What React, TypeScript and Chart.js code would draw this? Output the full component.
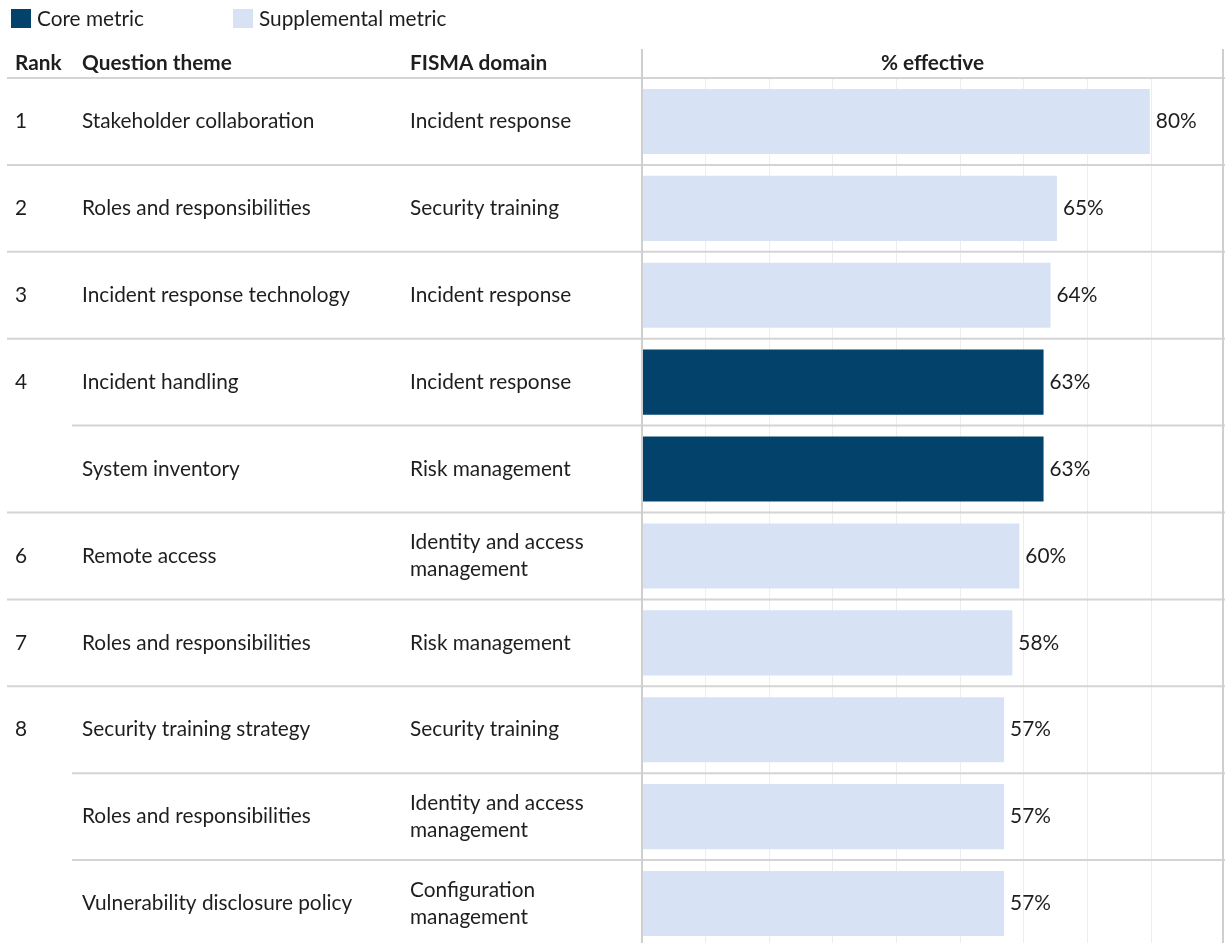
import React, { useEffect, useRef } from "react";
import { Chart, registerables } from "chart.js";

Chart.register(...registerables);

const ranks = ["1", "2", "3", "4", "", "6", "7", "8", "", ""];
const themes = [
  "Stakeholder collaboration",
  "Roles and responsibilities",
  "Incident response technology",
  "Incident handling",
  "System inventory",
  "Remote access",
  "Roles and responsibilities",
  "Security training strategy",
  "Roles and responsibilities",
  "Vulnerability disclosure policy",
];
const domains = [
  "Incident response",
  "Security training",
  "Incident response",
  "Incident response",
  "Risk management",
  "Identity and access\nmanagement",
  "Risk management",
  "Security training",
  "Identity and access\nmanagement",
  "Configuration\nmanagement",
];
const values = [79.8, 65.2, 64.2, 63.1, 63.1, 59.3, 58.2, 56.9, 56.9, 56.9];
const valueLabels = ["80%", "65%", "64%", "63%", "63%", "60%", "58%", "57%", "57%", "57%"];
const metricTypes = ["supp", "supp", "supp", "core", "core", "supp", "supp", "supp", "supp", "supp"];
const legendLabels = ["Core metric", "Supplemental metric"];
const headers = ["Rank", "Question theme", "FISMA domain", "% effective"];

const CORE = "#02426b";
const SUPP = "#d7e3f4";
const TEXT = "#1e1e1e";
const FAMILY = "Lato, 'Open Sans', sans-serif";

let cachedSize: number | null = null;
function fitSize(ctx: CanvasRenderingContext2D): number {
  if (cachedSize) return cachedSize;
  ctx.save();
  ctx.font = `400 20px ${FAMILY}`;
  const w = ctx.measureText("Stakeholder collaboration").width;
  ctx.restore();
  cachedSize = Math.round((20 * 232 / w) * 10) / 10;
  return cachedSize;
}

const tablePlugin = {
  id: "tablePlugin",
  afterDraw(chart: any) {
    const ctx: CanvasRenderingContext2D = chart.ctx;
    const area = chart.chartArea;
    const yScale = chart.scales.y;
    const xScale = chart.scales.x;
    const n = themes.length;
    const rowH = (area.bottom - area.top) / n;
    const size = fitSize(ctx);
    const H = chart.height;
    ctx.save();

    // row separators
    ctx.strokeStyle = "#d4d4d4";
    ctx.lineWidth = 2;
    for (let i = 0; i < n; i++) {
      const yy = area.top + i * rowH;
      const x0 = ranks[i] ? 7 : 72;
      ctx.beginPath();
      ctx.moveTo(x0, yy);
      ctx.lineTo(chart.width, yy);
      ctx.stroke();
    }
    // axis line & right border
    ctx.strokeStyle = "#cfcfcf";
    [area.left, area.right].forEach((xx: number) => {
      ctx.beginPath();
      ctx.moveTo(xx, 49);
      ctx.lineTo(xx, H);
      ctx.stroke();
    });

    ctx.fillStyle = TEXT;
    ctx.textBaseline = "middle";
    ctx.textAlign = "left";

    // legend
    const legendX = [11, 233];
    const legendColors = [CORE, SUPP];
    ctx.font = `400 ${size}px ${FAMILY}`;
    legendLabels.forEach((lbl, k) => {
      ctx.fillStyle = legendColors[k];
      ctx.fillRect(legendX[k], 9, 20, 19);
      ctx.fillStyle = TEXT;
      ctx.fillText(lbl, legendX[k] + 26, 19);
    });

    // headers
    ctx.font = `700 ${size}px ${FAMILY}`;
    ctx.fillText(headers[0], 15, 63);
    ctx.fillText(headers[1], 82, 63);
    ctx.fillText(headers[2], 410, 63);
    ctx.textAlign = "center";
    ctx.fillText(headers[3], (area.left + area.right) / 2, 63);
    ctx.textAlign = "left";

    // rows
    ctx.font = `400 ${size}px ${FAMILY}`;
    for (let i = 0; i < n; i++) {
      const yc = yScale.getPixelForValue(i);
      if (ranks[i]) ctx.fillText(ranks[i], 15, yc);
      ctx.fillText(themes[i], 82, yc);
      const lines = domains[i].split("\n");
      const lh = 27;
      lines.forEach((ln, j) => {
        ctx.fillText(ln, 410, yc + (j - (lines.length - 1) / 2) * lh);
      });
      const xe = xScale.getPixelForValue(values[i]);
      ctx.fillText(valueLabels[i], xe + 6, yc);
    }
    ctx.restore();
  },
};

export default function App() {
  const ref = useRef<HTMLCanvasElement | null>(null);
  useEffect(() => {
    if (!ref.current) return;
    const chart = new Chart(ref.current, {
      type: "bar",
      data: {
        labels: themes,
        datasets: [
          {
            data: values,
            backgroundColor: metricTypes.map((t) => (t === "core" ? CORE : SUPP)),
            borderWidth: 0,
            categoryPercentage: 1,
            barPercentage: 0.749,
          },
        ],
      },
      options: {
        indexAxis: "y",
        animation: false,
        responsive: false,
        maintainAspectRatio: false,
        devicePixelRatio: 1,
        layout: { padding: { left: 642, right: 2, top: 78, bottom: 0 } },
        plugins: { legend: { display: false }, tooltip: { enabled: false } },
        scales: {
          x: {
            min: 0,
            max: 91.3,
            ticks: { display: false, stepSize: 10 },
            border: { display: false },
            grid: {
              drawTicks: false,
              lineWidth: 1,
              color: (c: any) =>
                c.tick && (c.tick.value === 0 || c.tick.value > 90) ? "rgba(0,0,0,0)" : "#ededed",
            },
          },
          y: { display: false },
        },
      },
      plugins: [tablePlugin],
    });
    return () => chart.destroy();
  }, []);
  return (
    <div style={{ position: "fixed", left: 0, top: 0, width: 1225, height: 943, overflow: "hidden", background: "#fff" }}>
      <canvas ref={ref} width={1225} height={947} style={{ display: "block", width: 1225, height: 947 }} />
    </div>
  );
}
